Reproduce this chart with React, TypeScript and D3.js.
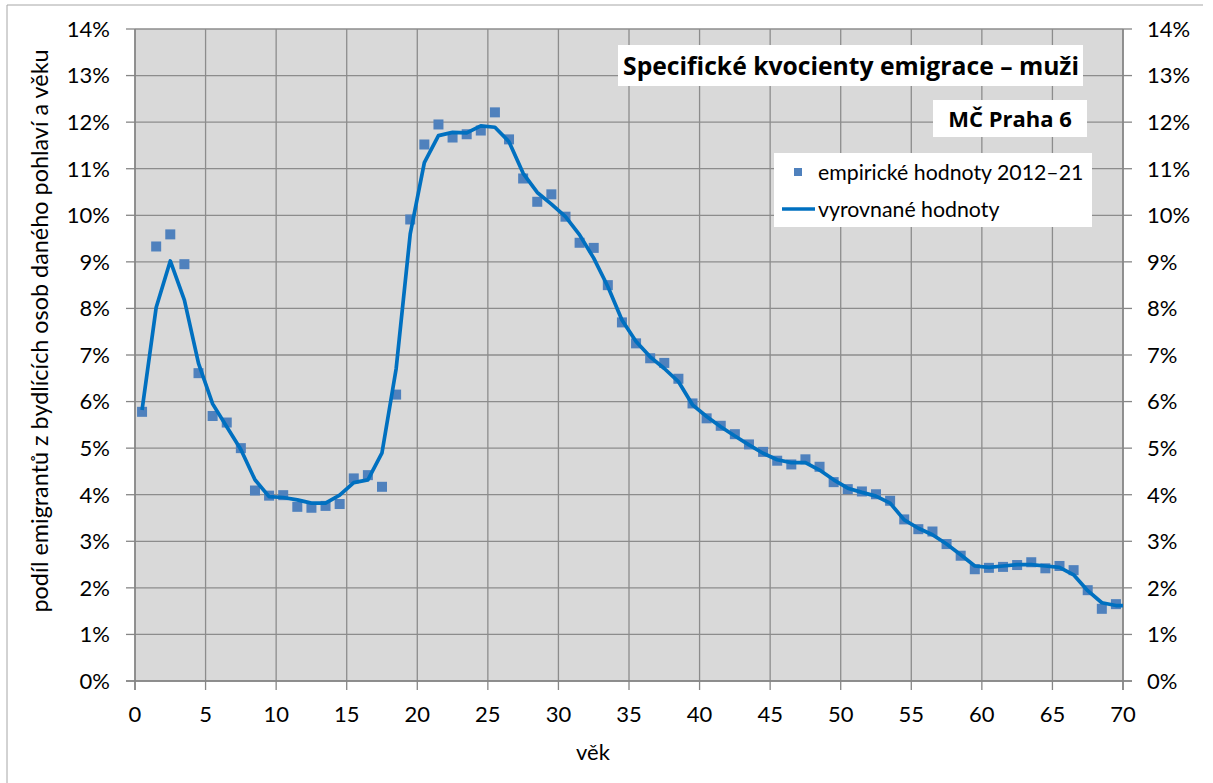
import React from "react";
import * as d3 from "d3";

// ages (middle of each one-year age group)
const ages = d3.range(0.5, 70, 1);

// empirical emigration rates, men, 2012–21 (%)
const empirical = [
  5.78, 9.33, 9.59, 8.95, 6.61, 5.69, 5.55, 5.0, 4.09, 3.98,
  3.99, 3.74, 3.72, 3.76, 3.8, 4.35, 4.42, 4.17, 6.15, 9.91,
  11.52, 11.95, 11.67, 11.74, 11.82, 12.21, 11.63, 10.79, 10.29, 10.45,
  9.97, 9.41, 9.3, 8.5, 7.7, 7.25, 6.93, 6.83, 6.49, 5.96,
  5.64, 5.48, 5.3, 5.08, 4.92, 4.73, 4.65, 4.76, 4.6, 4.27,
  4.12, 4.07, 4.01, 3.87, 3.47, 3.26, 3.21, 2.94, 2.69, 2.4,
  2.43, 2.45, 2.49, 2.55, 2.42, 2.47, 2.38, 1.95, 1.55, 1.65,
];

// smoothed rates (%), last value sits at age 70
const smoothedAges = [...ages, 70];
const smoothed = [
  5.82, 8.02, 9.02, 8.18, 6.82, 5.95, 5.46, 4.97, 4.32, 3.96,
  3.94, 3.89, 3.82, 3.82, 3.99, 4.26, 4.32, 4.9, 6.7, 9.6,
  11.13, 11.71, 11.78, 11.77, 11.92, 11.89, 11.58, 10.9, 10.49, 10.24,
  9.97, 9.58, 9.08, 8.47, 7.75, 7.29, 6.96, 6.71, 6.43, 5.93,
  5.68, 5.46, 5.26, 5.07, 4.89, 4.75, 4.69, 4.69, 4.53, 4.32,
  4.14, 4.05, 3.97, 3.82, 3.46, 3.28, 3.14, 2.94, 2.71, 2.47,
  2.44, 2.47, 2.5, 2.5, 2.47, 2.44, 2.28, 1.94, 1.68, 1.62,
  1.62,
];

const xTicks = [0, 5, 10, 15, 20, 25, 30, 35, 40, 45, 50, 55, 60, 65, 70];
const yTicks = [0, 1, 2, 3, 4, 5, 6, 7, 8, 9, 10, 11, 12, 13, 14];

const title = "Specifické kvocienty emigrace – muži";
const subtitle = "MČ Praha  6";
const legendLabels = ["empirické hodnoty 2012–21", "vyrovnané hodnoty"];
const xTitle = "věk";
const yTitle = "podíl emigrantů z bydlících osob daného pohlaví a věku";

const font = "Lato, 'Noto Sans', sans-serif";
const boldFont = "'Open Sans', Lato, sans-serif";

const App = () => {
  const width = 1213;
  const height = 783;
  const left = 135;
  const right = 1123;
  const top = 29;
  const bottom = 681;

  const x = d3.scaleLinear().domain([0, 70]).range([left, right]);
  const y = d3.scaleLinear().domain([0, 14]).range([bottom, top]);

  const line = d3
    .line<number>()
    .x((d, i) => x(smoothedAges[i]))
    .y((d) => y(d));

  const gridColor = "#8c8c8c";
  const axisColor = "#868686";
  const sq = 10;

  return (
    <svg
      width={width}
      height={height}
      style={{ position: "absolute", left: 0, top: 0, background: "#fff" }}
      fontFamily={font}
    >
      {/* outer frame (top and left edges are visible) */}
      <line x1={7} x2={1203} y1={5} y2={5} stroke="#a6a6a6" strokeWidth={1} />
      <line x1={7} x2={7} y1={5} y2={783} stroke="#a6a6a6" strokeWidth={1} />

      {/* plot area */}
      <rect x={left} y={top} width={right - left} height={bottom - top} fill="#d9d9d9" />

      {/* gridlines */}
      {yTicks.map((t) => (
        <line key={"gy" + t} x1={left} x2={right} y1={y(t)} y2={y(t)} stroke={gridColor} strokeWidth={1.3} />
      ))}
      {xTicks.map((t) => (
        <line key={"gx" + t} x1={x(t)} x2={x(t)} y1={top} y2={bottom} stroke={gridColor} strokeWidth={1.3} />
      ))}

      {/* axes */}
      <line x1={left} x2={left} y1={top} y2={bottom + 9} stroke={axisColor} strokeWidth={1.5} />
      <line x1={right} x2={right} y1={top} y2={bottom + 9} stroke={axisColor} strokeWidth={1.5} />
      <line x1={left - 9} x2={right + 9} y1={bottom} y2={bottom} stroke={axisColor} strokeWidth={1.5} />
      {yTicks.map((t) => (
        <g key={"ty" + t}>
          <line x1={left - 9} x2={left} y1={y(t)} y2={y(t)} stroke={axisColor} strokeWidth={1.3} />
          <line x1={right} x2={right + 9} y1={y(t)} y2={y(t)} stroke={axisColor} strokeWidth={1.3} />
          <text x={110} y={y(t)} dy="0.36em" textAnchor="end" fontSize={22} fill="#000">
            {t}%
          </text>
          <text x={1147} y={y(t)} dy="0.36em" textAnchor="start" fontSize={22} fill="#000">
            {t}%
          </text>
        </g>
      ))}
      {xTicks.map((t) => (
        <g key={"tx" + t}>
          <line x1={x(t)} x2={x(t)} y1={bottom} y2={bottom + 9} stroke={axisColor} strokeWidth={1.3} />
          <text x={x(t)} y={722} textAnchor="middle" fontSize={22} fill="#000">
            {t}
          </text>
        </g>
      ))}

      {/* axis titles */}
      <text x={593} y={760} textAnchor="middle" fontSize={22} fill="#000">
        {xTitle}
      </text>
      <text
        transform={`translate(48,331) rotate(-90)`}
        textAnchor="middle"
        fontSize={23.4}
        fill="#000"
      >
        {yTitle}
      </text>

      {/* empirical points */}
      {empirical.map((v, i) => (
        <rect
          key={"p" + i}
          x={x(ages[i]) - sq / 2}
          y={y(v) - sq / 2}
          width={sq}
          height={sq}
          fill="#4f81bd"
        />
      ))}

      {/* smoothed line */}
      <path d={line(smoothed) || ""} fill="none" stroke="#0070c0" strokeWidth={3.7} strokeLinejoin="round" />

      {/* title boxes */}
      <rect x={618} y={45} width={465} height={41} fill="#fff" />
      <text x={851} y={75} textAnchor="middle" fontSize={24.7} fontWeight="bold" fontFamily={boldFont} fill="#000">
        {title}
      </text>
      <rect x={933} y={100} width={154} height={37} fill="#fff" />
      <text x={1010} y={127} textAnchor="middle" fontSize={22} fontWeight="bold" fontFamily={boldFont} fill="#000">
        {subtitle}
      </text>

      {/* legend */}
      <rect x={774} y={153} width={318} height={74} fill="#fff" />
      <rect x={798 - 4} y={172 - 4} width={8} height={8} fill="#4f81bd" />
      <text x={818} y={172} dy="0.36em" fontSize={21.3} fill="#000">
        {legendLabels[0]}
      </text>
      <line x1={782} x2={815} y1={209} y2={209} stroke="#0070c0" strokeWidth={3.5} />
      <text x={818} y={209} dy="0.36em" fontSize={21.3} fill="#000">
        {legendLabels[1]}
      </text>
    </svg>
  );
};

export default App;
